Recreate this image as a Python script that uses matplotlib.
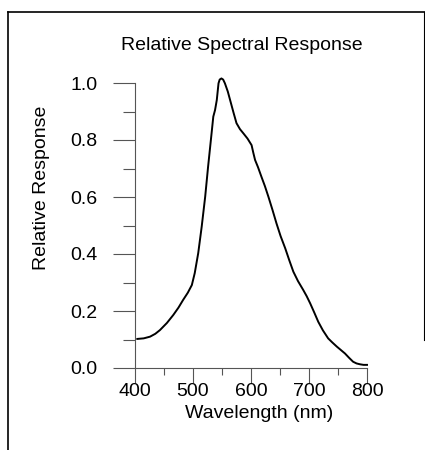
import matplotlib
matplotlib.use('Agg')
import matplotlib.pyplot as plt
from matplotlib.lines import Line2D

plt.rcParams['font.family'] = ['Liberation Sans', 'DejaVu Sans']

# wavelength (nm) and relative response
wavelength = [404, 415, 426, 435, 443, 455, 466, 475, 483, 491, 498, 503, 509,
              515, 521, 526, 532, 535, 538, 541, 544, 546, 549, 552, 555, 560,
              564, 570, 575, 581, 587, 594, 601, 604, 607, 612, 618, 624, 630,
              637, 644, 651, 659, 666, 673, 681, 690, 696, 702, 709, 716, 724,
              733, 740, 748, 755, 762, 769, 776, 782, 788, 794, 800]
response = [0.102, 0.104, 0.110, 0.120, 0.133, 0.158, 0.186, 0.212, 0.239,
            0.264, 0.291, 0.333, 0.403, 0.496, 0.601, 0.706, 0.823, 0.882,
            0.905, 0.940, 0.999, 1.012, 1.016, 1.012, 0.999, 0.970, 0.940,
            0.895, 0.859, 0.838, 0.823, 0.805, 0.782, 0.755, 0.730, 0.705,
            0.671, 0.638, 0.601, 0.555, 0.507, 0.463, 0.420, 0.378, 0.338,
            0.305, 0.274, 0.252, 0.227, 0.195, 0.162, 0.132, 0.104, 0.090,
            0.075, 0.063, 0.051, 0.036, 0.022, 0.016, 0.013, 0.011, 0.011]

xticks = [400, 500, 600, 700, 800]
yticks = [0.0, 0.2, 0.4, 0.6, 0.8, 1.0]

fig = plt.figure(figsize=(4.25, 4.5), dpi=100)
ax = fig.add_axes([135 / 425, 82 / 450, 232 / 425, 285 / 450])

ax.plot(wavelength, response, color='black', lw=1.4, clip_on=False,
        solid_joinstyle='round')

ax.set_xlim(400, 800)
ax.set_ylim(0, 1.0)
for s in ['top', 'right']:
    ax.spines[s].set_visible(False)
for s in ['left', 'bottom']:
    ax.spines[s].set_color('#555555')
    ax.spines[s].set_linewidth(0.8)

ax.set_xticks(xticks)
ax.set_xticks([450, 550, 650, 750], minor=True)
ax.set_yticks(yticks)
ax.set_yticklabels(['%.1f' % v for v in yticks])
ax.set_yticks([0.1, 0.3, 0.5, 0.7, 0.9], minor=True)
ax.tick_params(axis='x', which='major', direction='out', length=10.5, width=0.8,
               color='#555555', pad=0, labelsize=14)
ax.tick_params(axis='x', which='minor', direction='out', length=5, width=0.8,
               color='#555555')
ax.tick_params(axis='y', which='major', direction='out', length=16, width=0.8,
               color='#555555', pad=11, labelsize=14)
ax.tick_params(axis='y', which='minor', direction='out', length=9, width=0.8,
               color='#555555')

ax.set_xlabel('Wavelength (nm)', fontsize=14)
ax.xaxis.set_label_coords((259 - 135) / 232, (368 - 413) / 285)
ax.xaxis.label.set_va('center')
ax.set_ylabel('Relative Response', fontsize=14)
ax.yaxis.set_label_coords((42 - 135) / 232, (368 - 188) / 285)
ax.yaxis.label.set_va('center')

ax.text((242 - 135) / 232, (368 - 45) / 285, 'Relative Spectral Response',
        transform=ax.transAxes, ha='center', va='center', fontsize=14)

# page frame lines
fig.add_artist(Line2D([8 / 425, 1], [1 - 11.5 / 450, 1 - 11.5 / 450],
                      transform=fig.transFigure, color='black', lw=1.2))
fig.add_artist(Line2D([8 / 425, 8 / 425], [0, 1 - 11.5 / 450],
                      transform=fig.transFigure, color='black', lw=1.2))
fig.add_artist(Line2D([423.5 / 425, 423.5 / 425], [1 - 340 / 450, 1 - 11.5 / 450],
                      transform=fig.transFigure, color='black', lw=0.8))

fig.savefig('out.png', dpi=100)
